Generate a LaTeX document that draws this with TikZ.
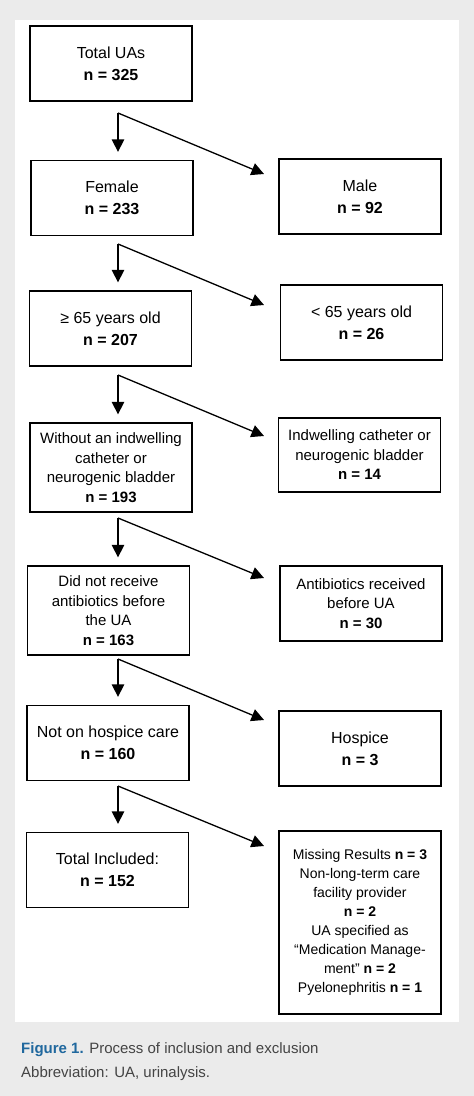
\documentclass[tikz,border=0pt]{standalone}
\usepackage{fontspec}
\setmainfont{Liberation Sans}
\usetikzlibrary{arrows.meta}
\definecolor{panelgray}{RGB}{235,235,235}
\definecolor{capblue}{RGB}{32,104,158}
\definecolor{captext}{RGB}{68,68,68}

\begin{document}
\begin{tikzpicture}[x=1pt,y=-1pt,
  box/.style={draw, line width=1.3pt, minimum width=162pt, minimum height=75pt,
    inner sep=2pt, align=center, font=\fontsize{16}{22}\selectfont},
  smallbox/.style={box, font=\fontsize{15}{19.5}\selectfont},
  flow/.style={line width=1.3pt, -{Triangle[width=12.5pt,length=12.5pt]}}]
  % page and panel
  \fill[panelgray] (0,0) rectangle (474,1096);
  \fill[white] (15,20) rectangle (459,1022);

  % left column
  \node[box] (total) at (111,63.5) {Total UAs\\\textbf{n = 325}};
  \node[box] (female) at (112,198) {Female\\\textbf{n = 233}};
  \node[box] (old) at (110.5,328.5) {≥ 65 years old\\\textbf{n = 207}};
  \node[smallbox, minimum height=89pt] (nocath) at (111,467.5)
    {Without an indwelling\\catheter or\\neurogenic bladder\\\textbf{n = 193}};
  \node[smallbox, minimum height=89pt] (noabx) at (108.5,610.5)
    {Did not receive\\antibiotics before\\the UA\\\textbf{n = 163}};
  \node[box] (nohosp) at (108,743) {Not on hospice care\\\textbf{n = 160}};
  \node[box] (incl) at (107.5,870) {Total Included:\\\textbf{n = 152}};

  % right column
  \node[box] (male) at (360,196.5) {Male\\\textbf{n = 92}};
  \node[box] (young) at (361.5,322.5) {< 65 years old\\\textbf{n = 26}};
  \node[smallbox, minimum height=74pt] (cath) at (359.5,455)
    {Indwelling catheter or\\neurogenic bladder\\\textbf{n = 14}};
  \node[smallbox] (abx) at (361,603.5)
    {Antibiotics received\\before UA\\\textbf{n = 30}};
  \node[box] (hosp) at (360,748.5) {Hospice\\\textbf{n = 3}};
  \node[box, minimum height=183pt, font=\fontsize{14}{19}\selectfont] (excl) at (360,922.5)
    {Missing Results \textbf{n = 3}\\Non-long-term care\\facility provider\\\textbf{n = 2}\\
     UA specified as\\“Medication Manage-\\ment” \textbf{n = 2}\\Pyelonephritis \textbf{n = 1}};

  % split points and arrow ends
  \coordinate (s1) at (118,113);  \coordinate (t1) at (264,174);
  \coordinate (s2) at (118,244);  \coordinate (t2) at (264,305);
  \coordinate (s3) at (118,375);  \coordinate (t3) at (264,436);
  \coordinate (s4) at (118,518);  \coordinate (t4) at (264,578);
  \coordinate (s5) at (118,659);  \coordinate (t5) at (264,720);
  \coordinate (s6) at (118,786);  \coordinate (t6) at (264,846);

  \draw[flow, shorten >=8pt] (s1) -- (s1 |- female.north);
  \draw[flow] (s1) -- (t1);
  \draw[flow, shorten >=8pt] (s2) -- (s2 |- old.north);
  \draw[flow] (s2) -- (t2);
  \draw[flow, shorten >=8pt] (s3) -- (s3 |- nocath.north);
  \draw[flow] (s3) -- (t3);
  \draw[flow, shorten >=8pt] (s4) -- (s4 |- noabx.north);
  \draw[flow] (s4) -- (t4);
  \draw[flow, shorten >=8pt] (s5) -- (s5 |- nohosp.north);
  \draw[flow] (s5) -- (t5);
  \draw[flow, shorten >=8pt] (s6) -- (s6 |- incl.north);
  \draw[flow] (s6) -- (t6);

  % caption
  \node[anchor=base west, inner sep=0, text=captext, font=\fontsize{15}{18}\selectfont]
    (cap1) at (21,1053) {\textcolor{capblue}{\textbf{Figure 1.}} Process of inclusion and exclusion};
  \node[anchor=base west, inner sep=0, text=captext, font=\fontsize{15}{18}\selectfont]
    (cap2) at (21,1077) {Abbreviation: UA, urinalysis.};
\end{tikzpicture}
\end{document}
